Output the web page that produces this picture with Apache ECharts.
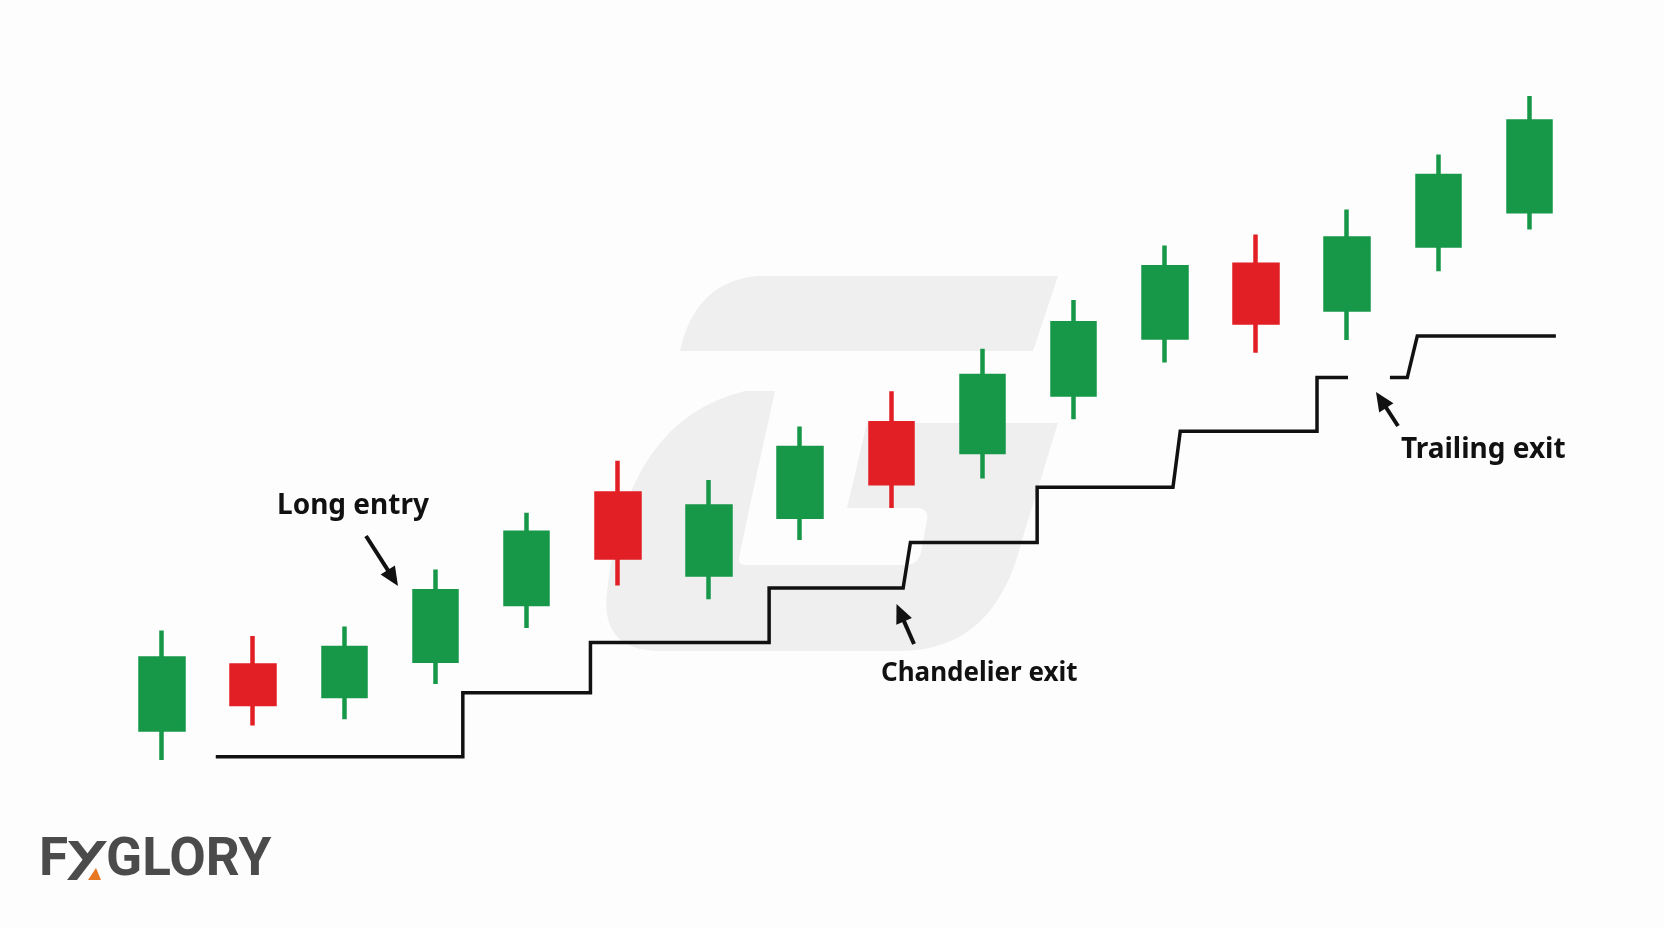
<!DOCTYPE html>
<html>
<head>
<meta charset="utf-8">
<script src="https://cdn.jsdelivr.net/npm/echarts@6/dist/echarts.min.js"></script>
<style>
  html, body { margin: 0; padding: 0; background: #fdfdfd; }
  #chart { width: 1664px; height: 928px; }
</style>
</head>
<body>
<div id="chart"></div>
<script>
// ---- data (price units) ----
const categories = ['1','2','3','4','5','6','7','8','9','10','11','12','13','14','15','16'];
const opens  = [12.3, 20.3, 16.5, 20.9, 28.0, 41.8, 31.7, 38.9, 50.6, 47.0, 54.2, 61.3, 70.4, 64.8, 72.8, 77.1];
const closes = [21.2, 15.5, 22.5, 29.6, 36.9, 33.8, 40.2, 47.5, 43.1, 56.5, 63.1, 70.1, 63.2, 73.7, 81.5, 88.3];
const lows   = [ 8.5, 12.8, 13.6, 18.0, 25.0, 30.3, 28.6, 36.0, 40.0, 43.7, 51.1, 58.2, 59.4, 61.0, 69.6, 74.8];
const highs  = [24.7, 24.0, 25.2, 32.3, 39.4, 45.9, 43.5, 50.2, 54.6, 59.9, 66.0, 72.8, 74.2, 77.3, 84.2, 91.5];

// chandelier exit step line: x in candle-index units, y in price units ('-' = gap)
const stepX = [0.59, 3.30, 3.30, 4.70, 4.70, 6.66, 6.66, 8.13, 8.21, 9.60, 9.60, 11.09, 11.17, 12.67, 12.67, 13.01, 13.2, 13.47, 13.66, 13.77, 15.29];
const stepY = [8.9, 8.9, 16.9, 16.9, 23.2, 23.2, 30.0, 30.0, 35.7, 35.7, 42.6, 42.6, 49.6, 49.6, 56.3, 56.3, '-', 56.3, 56.3, 61.5, 61.5];

const labels = { entry: 'Long entry', chandelier: 'Chandelier exit', trailing: 'Trailing exit' };

const GREEN = '#179849', RED = '#e11f25', INK = '#111111', WM = '#efefef', BG = '#fdfdfd';

const chart = echarts.init(document.getElementById('chart'), null, { renderer: 'canvas' });

// turn a simple M/L/Q/Z path into polygon points
function pathPoints(d) {
  const t = d.trim().split(/\s+/);
  const pts = [];
  let i = 0, cx = 0, cy = 0;
  while (i < t.length) {
    const c = t[i++];
    if (c === 'M' || c === 'L') { cx = +t[i++]; cy = +t[i++]; pts.push([cx, cy]); }
    else if (c === 'Q') {
      const qx = +t[i++], qy = +t[i++], ex = +t[i++], ey = +t[i++];
      for (let k = 1; k <= 16; k++) {
        const s = k / 16, a = (1 - s) * (1 - s), b = 2 * (1 - s) * s, e = s * s;
        pts.push([a * cx + b * qx + e * ex, a * cy + b * qy + e * ey]);
      }
      cx = ex; cy = ey;
    } else if (c === 'Z') { /* close */ }
  }
  return pts;
}

function arrow(x1, y1, x2, y2) {
  const dx = x2 - x1, dy = y2 - y1, L = Math.hypot(dx, dy);
  const ux = dx / L, uy = dy / L, px = -uy, py = ux;
  const hl = 19, hw = 8.5;
  const bx = x2 - ux * hl, by = y2 - uy * hl;
  return [
    { type: 'line', z: 100, shape: { x1: x1, y1: y1, x2: bx + ux * 2, y2: by + uy * 2 }, style: { stroke: INK, lineWidth: 4 } },
    { type: 'polygon', z: 100, shape: { points: [[x2, y2], [bx + px * hw, by + py * hw], [bx - px * hw, by - py * hw]] }, style: { fill: INK } }
  ];
}

const watermark = [
  { type: 'polygon', z: -10, silent: true, shape: { points: pathPoints('M 757 276 L 1058 276 L 1033 351 L 680 351 Q 695 282 757 276 Z') }, style: { fill: WM } },
  { type: 'polygon', z: -10, silent: true, shape: { points: pathPoints(
    'M 775 391 L 750 505 L 739 558 Q 738 565 746 565 L 905 565 Q 918 565 921 552 L 927 520 Q 929 508 916 508 L 847 508 L 867 423 L 1058 423 L 1022 540 Q 995 651 900 651 L 660 651 Q 600 651 607 592 Q 625 420 745 391 Z') }, style: { fill: WM } }
];

const logo = [
  { type: 'text', z: 100, style: { x: 39, y: 862, text: 'F', font: 'bold 53px Roboto', fill: '#4b4b4b', align: 'left', verticalAlign: 'middle' } },
  { type: 'polygon', z: 100, shape: { points: [[97, 841], [107, 841], [77, 880], [67, 880]] }, style: { fill: '#4b4b4b' } },
  { type: 'polygon', z: 100, shape: { points: [[68, 841], [78, 841], [91, 858], [86, 864]] }, style: { fill: '#4b4b4b' } },
  { type: 'polygon', z: 100, shape: { points: [[88, 880], [101, 880], [96, 868]] }, style: { fill: '#e87722' } },
  { type: 'text', z: 100, style: { x: 106, y: 862, text: 'GLORY', font: 'bold 53px Roboto', fill: '#4b4b4b', align: 'left', verticalAlign: 'middle' } }
];

const texts = [
  { type: 'text', z: 100, style: { x: 277, y: 506, text: labels.entry, font: 'bold 28px "Noto Sans"', fill: INK, align: 'left', verticalAlign: 'middle' } },
  { type: 'text', z: 100, style: { x: 881, y: 674, text: labels.chandelier, font: 'bold 26px "Noto Sans"', fill: INK, align: 'left', verticalAlign: 'middle' } },
  { type: 'text', z: 100, style: { x: 1401, y: 450, text: labels.trailing, font: 'bold 28px "Noto Sans"', fill: INK, align: 'left', verticalAlign: 'middle' } }
];

const option = {
  backgroundColor: BG,
  animation: false,
  grid: { left: 116.4, right: 89, top: 28, bottom: 100 },
  xAxis: [
    { type: 'category', data: categories, show: false, boundaryGap: true },
    { type: 'value', min: -0.5, max: 15.5, show: false }
  ],
  yAxis: { type: 'value', min: 0, max: 100, show: false },
  graphic: [].concat(watermark, texts,
    arrow(366, 536, 398, 586),
    arrow(914, 644, 896.5, 604),
    arrow(1398, 426, 1376, 392),
    logo),
  series: [
    {
      type: 'candlestick',
      xAxisIndex: 0,
      barWidth: 43,
      data: categories.map((c, i) => [opens[i], closes[i], lows[i], highs[i]]),
      itemStyle: { color: GREEN, color0: RED, borderColor: GREEN, borderColor0: RED, borderWidth: 4.5 }
    },
    {
      type: 'line',
      xAxisIndex: 1,
      symbol: 'none',
      connectNulls: false,
      data: stepX.map((x, i) => [x, stepY[i]]),
      lineStyle: { color: INK, width: 3.5, join: 'miter' }
    }
  ]
};
chart.setOption(option);
</script>
</body>
</html>
